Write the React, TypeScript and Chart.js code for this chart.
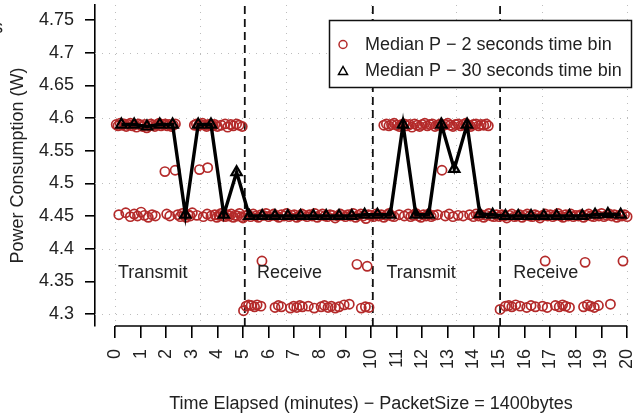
import React, { useEffect, useRef } from 'react';
import { Chart, registerables } from 'chart.js';

Chart.register(...registerables);

const FONT = '"Liberation Sans", Arial, Helvetica, sans-serif';
const TEXT = '#222';
const RED = '#b42a2a';

// axis ranges and ticks
const xMin = -0.78;
const xMax = 20.27;
const yMin = 4.2816;
const yMax = 4.773;
const xTicks = [0, 1, 2, 3, 4, 5, 6, 7, 8, 9, 10, 11, 12, 13, 14, 15, 16, 17, 18, 19, 20];
const yTicks = [4.3, 4.35, 4.4, 4.45, 4.5, 4.55, 4.6, 4.65, 4.7, 4.75];
const gridX = [0, 3.33, 6.67, 10, 13.33, 16.67, 20];
const gridY = [4.3, 4.4, 4.5, 4.6, 4.7];
const dividers = [5.07, 10.07, 15.04];

// 30 second bins (triangles)
const triTimes = [0.25, 0.75, 1.25, 1.75, 2.25, 2.75, 3.25, 3.75, 4.25, 4.75,
  5.25, 5.75, 6.25, 6.75, 7.25, 7.75, 8.25, 8.75, 9.25, 9.75,
  10.25, 10.75, 11.25, 11.75, 12.25, 12.75, 13.25, 13.75, 14.25, 14.75,
  15.25, 15.75, 16.25, 16.75, 17.25, 17.75, 18.25, 18.75, 19.25, 19.75];
const triMedians = [4.590, 4.590, 4.587, 4.590, 4.590, 4.452, 4.590, 4.590, 4.452, 4.517,
  4.450, 4.450, 4.450, 4.450, 4.450, 4.450, 4.450, 4.450, 4.450, 4.452,
  4.452, 4.452, 4.590, 4.452, 4.452, 4.590, 4.522, 4.590, 4.453, 4.452,
  4.450, 4.450, 4.450, 4.450, 4.450, 4.450, 4.450, 4.452, 4.453, 4.452];

// 2 second bins (circles) [minute, watts]
const tx1High = [[0.05, 4.590], [0.12, 4.588], [0.2, 4.592], [0.28, 4.589], [0.36, 4.591], [0.44, 4.587], [0.52, 4.590], [0.6, 4.592], [0.68, 4.588], [0.76, 4.590], [0.84, 4.586], [0.92, 4.591], [1.0, 4.589], [1.08, 4.587], [1.16, 4.590], [1.24, 4.585], [1.32, 4.588], [1.4, 4.591], [1.48, 4.589], [1.56, 4.587], [1.64, 4.590], [1.72, 4.592], [1.8, 4.588], [1.88, 4.590], [1.96, 4.591], [2.04, 4.588], [2.12, 4.590], [2.2, 4.587], [2.28, 4.589], [2.36, 4.591],
  [3.1, 4.589], [3.18, 4.591], [3.26, 4.588], [3.34, 4.590], [3.42, 4.592], [3.5, 4.589], [3.58, 4.587], [3.66, 4.590], [3.74, 4.591], [3.82, 4.588], [3.9, 4.590], [4.0, 4.587], [4.15, 4.589], [4.3, 4.591], [4.4, 4.586], [4.52, 4.590], [4.62, 4.588], [4.75, 4.591], [4.85, 4.589], [4.97, 4.587]];
const tx1Low = [[0.15, 4.452], [0.42, 4.455], [0.6, 4.449], [0.75, 4.453], [0.88, 4.450], [1.02, 4.456], [1.15, 4.451], [1.3, 4.448], [1.45, 4.452], [1.58, 4.450], [2.02, 4.453], [2.14, 4.450], [2.45, 4.452], [2.55, 4.449], [2.63, 4.454], [2.7, 4.451], [2.78, 4.448], [2.86, 4.452], [2.94, 4.450], [3.02, 4.455], [3.2, 4.451], [3.45, 4.449], [3.6, 4.453], [3.75, 4.450], [3.9, 4.452], [3.98, 4.448], [4.06, 4.451], [4.14, 4.454], [4.22, 4.450], [4.3, 4.449], [4.38, 4.452], [4.46, 4.450], [4.54, 4.453], [4.62, 4.448], [4.7, 4.451], [4.78, 4.450], [4.86, 4.454], [4.94, 4.449]];
const tx1Mid = [[1.95, 4.518], [2.35, 4.520], [3.3, 4.521], [3.62, 4.524]];
const rx1Low = [[5.0, 4.447], [5.1, 4.450], [5.2, 4.452], [5.3, 4.449], [5.4, 4.453], [5.5, 4.450], [5.6, 4.448], [5.7, 4.452], [5.8, 4.451], [5.9, 4.454], [6.0, 4.449], [6.1, 4.451], [6.2, 4.453], [6.3, 4.450], [6.4, 4.448], [6.5, 4.452], [6.6, 4.450], [6.7, 4.454], [6.8, 4.449], [6.9, 4.451], [7.0, 4.452], [7.1, 4.448], [7.2, 4.450], [7.3, 4.453], [7.4, 4.451], [7.5, 4.449], [7.6, 4.452], [7.7, 4.450], [7.8, 4.454], [7.9, 4.448], [8.0, 4.451], [8.1, 4.453], [8.2, 4.450], [8.3, 4.449], [8.4, 4.452], [8.5, 4.451], [8.6, 4.447], [8.7, 4.450], [8.8, 4.453], [8.9, 4.451], [9.0, 4.449], [9.1, 4.452], [9.2, 4.450], [9.3, 4.454], [9.4, 4.448], [9.5, 4.451], [9.6, 4.453], [9.7, 4.450], [9.8, 4.446], [9.9, 4.452]];
const rx1Idle = [[5.02, 4.305], [5.12, 4.312], [5.22, 4.314], [5.32, 4.313], [5.45, 4.311], [5.55, 4.314], [5.7, 4.312], [6.25, 4.310], [6.38, 4.313], [6.5, 4.311], [6.85, 4.309], [6.98, 4.312], [7.1, 4.310], [7.22, 4.313], [7.32, 4.311], [7.55, 4.312], [7.78, 4.309], [8.05, 4.311], [8.18, 4.313], [8.32, 4.310], [8.45, 4.312], [8.6, 4.309], [8.75, 4.311], [8.95, 4.314], [9.15, 4.315], [9.62, 4.309], [9.78, 4.311], [9.92, 4.310]];
const rx1Out = [[5.74, 4.381], [9.45, 4.376], [9.85, 4.373]];
const tx2High = [[10.5, 4.589], [10.6, 4.591], [10.7, 4.588], [10.8, 4.590], [10.9, 4.592], [11.0, 4.589], [11.1, 4.587], [11.2, 4.590], [11.3, 4.591], [11.4, 4.588], [11.5, 4.590], [11.6, 4.586], [11.7, 4.591], [11.8, 4.589], [11.9, 4.587], [12.0, 4.590], [12.1, 4.592], [12.2, 4.588], [12.3, 4.590], [12.4, 4.591], [12.5, 4.587], [12.6, 4.589], [12.7, 4.591], [12.8, 4.588], [12.9, 4.590], [13.0, 4.592], [13.1, 4.589], [13.2, 4.587], [13.3, 4.590], [13.4, 4.591], [13.5, 4.588], [13.6, 4.590], [13.7, 4.592], [13.8, 4.589], [13.9, 4.587], [14.0, 4.590], [14.1, 4.591], [14.2, 4.588], [14.3, 4.590], [14.4, 4.589], [14.5, 4.591], [14.58, 4.588]];
const tx2Low = [[10.0, 4.451], [10.1, 4.449], [10.2, 4.453], [10.3, 4.450], [10.4, 4.452], [10.5, 4.448], [10.6, 4.451], [10.7, 4.454], [10.8, 4.450], [10.9, 4.449], [11.1, 4.452], [11.3, 4.450], [11.45, 4.453], [11.55, 4.449], [11.65, 4.451], [11.75, 4.454], [11.85, 4.450], [11.95, 4.448], [12.05, 4.452], [12.15, 4.450], [12.25, 4.453], [12.35, 4.449], [12.45, 4.451], [12.6, 4.452], [12.9, 4.450], [13.05, 4.453], [13.2, 4.449], [13.4, 4.451], [13.6, 4.450], [13.85, 4.452], [14.0, 4.449], [14.1, 4.453], [14.2, 4.450], [14.3, 4.452], [14.4, 4.448], [14.5, 4.451], [14.6, 4.454], [14.7, 4.450], [14.8, 4.449], [14.9, 4.452]];
const tx2Mid = [[12.77, 4.520]];
const rx2Low = [[15.0, 4.449], [15.1, 4.452], [15.2, 4.450], [15.3, 4.447], [15.4, 4.451], [15.5, 4.453], [15.6, 4.449], [15.7, 4.450], [15.8, 4.452], [15.9, 4.448], [16.0, 4.451], [16.1, 4.453], [16.2, 4.450], [16.3, 4.449], [16.4, 4.452], [16.5, 4.450], [16.6, 4.447], [16.7, 4.451], [16.8, 4.453], [16.9, 4.450], [17.0, 4.452], [17.1, 4.449], [17.2, 4.451], [17.3, 4.454], [17.4, 4.450], [17.5, 4.448], [17.6, 4.452], [17.7, 4.450], [17.8, 4.453], [17.9, 4.449], [18.0, 4.451], [18.1, 4.450], [18.2, 4.452], [18.3, 4.448], [18.4, 4.451], [18.5, 4.453], [18.6, 4.450], [18.7, 4.449], [18.8, 4.452], [18.9, 4.450], [19.0, 4.454], [19.1, 4.449], [19.2, 4.451], [19.3, 4.453], [19.4, 4.450], [19.5, 4.452], [19.6, 4.448], [19.7, 4.451], [19.8, 4.450], [19.9, 4.452], [20.0, 4.449]];
const rx2Idle = [[15.04, 4.307], [15.25, 4.312], [15.38, 4.313], [15.5, 4.311], [15.65, 4.314], [15.82, 4.312], [16.08, 4.310], [16.25, 4.313], [16.42, 4.311], [16.7, 4.312], [16.88, 4.310], [17.2, 4.313], [17.35, 4.311], [17.48, 4.314], [17.6, 4.312], [17.75, 4.310], [18.3, 4.311], [18.45, 4.314], [18.58, 4.312], [18.72, 4.310], [18.88, 4.313], [19.35, 4.315]];
const rx2Out = [[16.8, 4.381], [18.36, 4.379], [19.84, 4.381]];

const regionNames = ['Transmit', 'Receive', 'Transmit', 'Receive'];
const regionAt = [0.12, 5.55, 10.6, 15.55];
const regionLevel = 4.363;

const legendLabels = ['Median P \u2212 2 seconds time bin', 'Median P \u2212 30 seconds time bin'];
const xTitle = 'Time Elapsed (minutes) \u2212 PacketSize = 1400bytes';
const yTitle = 'Power Consumption (W)';

const overlay = {
  id: 'overlay',
  beforeDatasetsDraw(chart: any) {
    const { ctx, chartArea: a, scales } = chart;
    const x = scales.x, y = scales.y;
    ctx.save();
    ctx.strokeStyle = '#bdbdbd';
    ctx.lineWidth = 1;
    ctx.setLineDash([1, 6]);
    for (const g of gridX) {
      const px = Math.round(x.getPixelForValue(g)) + 0.5;
      ctx.beginPath(); ctx.moveTo(px, a.top); ctx.lineTo(px, a.bottom); ctx.stroke();
    }
    for (const g of gridY) {
      const py = Math.round(y.getPixelForValue(g)) + 0.5;
      ctx.beginPath(); ctx.moveTo(a.left, py); ctx.lineTo(a.right, py); ctx.stroke();
    }
    ctx.restore();
  },
  afterDraw(chart: any) {
    const { ctx, chartArea: a, scales } = chart;
    const x = scales.x, y = scales.y;
    ctx.save();
    // x axis line (from first to last tick only)
    ctx.strokeStyle = '#000';
    ctx.lineWidth = 1.5;
    ctx.beginPath();
    ctx.moveTo(x.getPixelForValue(xTicks[0]), a.bottom);
    ctx.lineTo(x.getPixelForValue(xTicks[xTicks.length - 1]), a.bottom);
    ctx.stroke();

    ctx.fillStyle = TEXT;
    ctx.font = `18px ${FONT}`;
    ctx.textBaseline = 'middle';
    ctx.textAlign = 'left';
    regionNames.forEach((n, i) => {
      ctx.fillText(n, x.getPixelForValue(regionAt[i]), y.getPixelForValue(regionLevel));
    });

    // x title
    ctx.textAlign = 'center';
    ctx.textBaseline = 'alphabetic';
    ctx.fillText(xTitle, x.getPixelForValue(10), 409);

    // clipped text at top-left corner
    ctx.textAlign = 'right';
    ctx.fillText('s', 3, 33);

    // legend
    ctx.fillStyle = '#fff';
    ctx.fillRect(329.5, 20.5, 302, 67);
    ctx.strokeStyle = '#111';
    ctx.lineWidth = 1.5;
    ctx.strokeRect(329.5, 20.5, 302, 67);
    ctx.strokeStyle = RED;
    ctx.lineWidth = 1.5;
    ctx.beginPath(); ctx.arc(343, 44.5, 4, 0, Math.PI * 2); ctx.stroke();
    ctx.strokeStyle = '#000';
    ctx.lineWidth = 1.5;
    ctx.beginPath(); ctx.moveTo(343, 66.5); ctx.lineTo(338.5, 74.5); ctx.lineTo(347.5, 74.5); ctx.closePath(); ctx.stroke();
    ctx.fillStyle = TEXT;
    ctx.textAlign = 'left';
    ctx.textBaseline = 'middle';
    ctx.fillText(legendLabels[0], 365, 45);
    ctx.fillText(legendLabels[1], 365, 71);
    ctx.restore();
  },
};

const toPts = (arr: number[][]) => arr.map(([t, v]) => ({ x: t, y: v }));

export default function App() {
  const ref = useRef<HTMLCanvasElement | null>(null);
  useEffect(() => {
    document.body.style.margin = '0';
    const circles = toPts([...tx1High, ...tx1Low, ...tx1Mid, ...rx1Low, ...rx1Idle, ...rx1Out,
      ...tx2High, ...tx2Low, ...tx2Mid, ...rx2Low, ...rx2Idle, ...rx2Out]);
    const triangles = triTimes.map((t, i) => ({ x: t, y: triMedians[i] }));
    const dividerSets = dividers.map((d) => ({
      data: [{ x: d, y: yMin }, { x: d, y: yMax }],
      showLine: true,
      borderColor: '#111',
      borderWidth: 1.8,
      borderDash: [8, 5],
      pointRadius: 0,
    }));
    const chart = new Chart(ref.current as HTMLCanvasElement, {
      type: 'scatter',
      data: {
        datasets: [
          {
            label: legendLabels[1],
            data: triangles,
            showLine: true,
            borderColor: '#000',
            borderWidth: 3.4,
            pointStyle: 'triangle',
            pointRadius: 6,
            pointBorderWidth: 2.2,
            pointBorderColor: '#000',
            pointBackgroundColor: 'rgba(0,0,0,0)',
          },
          {
            label: legendLabels[0],
            data: circles,
            pointStyle: 'circle',
            pointRadius: 4.6,
            pointBorderWidth: 1.7,
            pointBorderColor: RED,
            pointBackgroundColor: 'rgba(0,0,0,0)',
          },
          ...dividerSets,
        ] as any,
      },
      options: {
        animation: false,
        responsive: false,
        devicePixelRatio: 1,
        events: [],
        layout: { autoPadding: false, padding: { top: 5, left: 0, right: 0, bottom: 0 } },
        plugins: { legend: { display: false }, tooltip: { enabled: false } },
        scales: {
          x: {
            type: 'linear',
            min: xMin,
            max: xMax,
            afterBuildTicks: (s: any) => { s.ticks = xTicks.map((v) => ({ value: v })); },
            afterFit: (s: any) => { s.height = 90; s.paddingLeft = 0; s.paddingRight = 0; },
            ticks: {
              autoSkip: false,
              minRotation: 90,
              maxRotation: 90,
              padding: 11,
              color: TEXT,
              font: { family: FONT, size: 18 },
              callback: (v: any) => String(v),
            },
            grid: { display: true, drawOnChartArea: false, drawTicks: true, tickLength: 12, color: '#000', lineWidth: 1.6 },
            border: { display: false },
          },
          y: {
            type: 'linear',
            min: yMin,
            max: yMax,
            afterBuildTicks: (s: any) => { s.ticks = yTicks.map((v) => ({ value: v })); },
            afterFit: (s: any) => { s.width = 95; s.paddingTop = 0; s.paddingBottom = 0; },
            ticks: {
              autoSkip: false,
              padding: 11,
              color: TEXT,
              font: { family: FONT, size: 18 },
              callback: (v: any) => String(v),
            },
            grid: { display: true, drawOnChartArea: false, drawTicks: true, tickLength: 10, color: '#000', lineWidth: 1.6 },
            border: { display: true, color: '#000', width: 1.6 },
            title: {
              display: true,
              text: yTitle,
              color: TEXT,
              font: { family: FONT, size: 18 },
              padding: { top: 7, bottom: 0 },
            },
          },
        },
      },
      plugins: [overlay],
    } as any);
    return () => chart.destroy();
  }, []);
  return (
    <div style={{ position: 'fixed', left: 0, top: 0, width: 634, height: 416, background: '#fff', overflow: 'hidden' }}>
      <canvas ref={ref} width={634} height={416} style={{ display: 'block' }} />
    </div>
  );
}
